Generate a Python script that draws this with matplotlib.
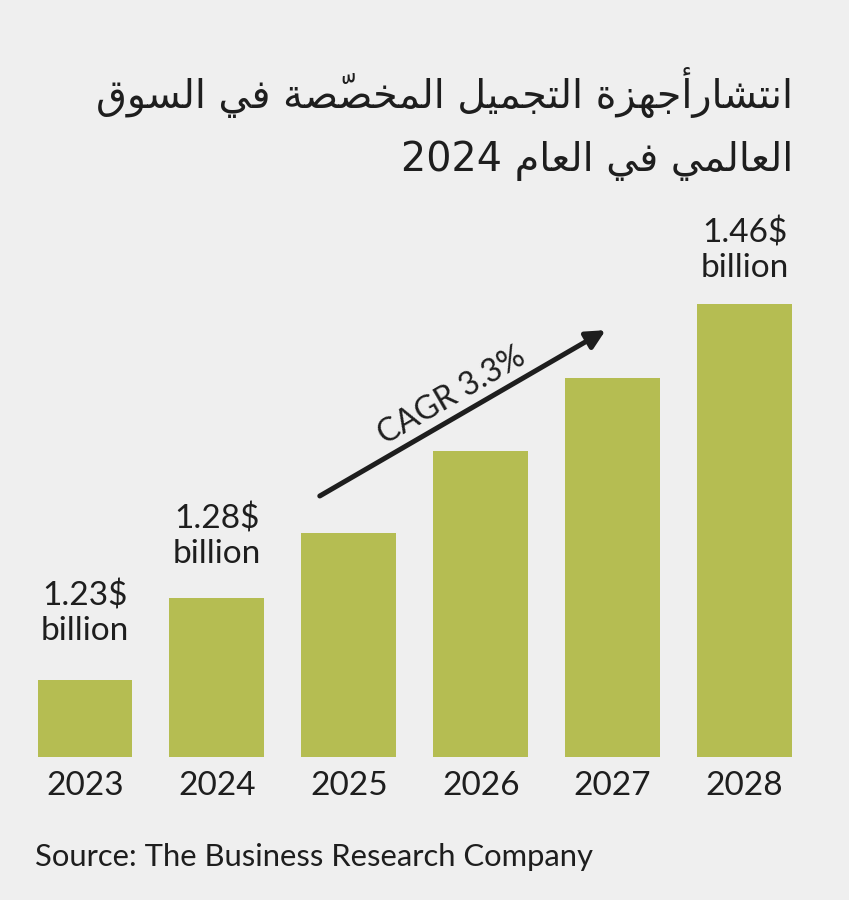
import numpy as np
import matplotlib
matplotlib.use('Agg')
import matplotlib.pyplot as plt

#--① data
years = ['2023', '2024', '2025', '2026', '2027', '2028']
values = [1.23, 1.28, 1.32, 1.37, 1.415, 1.46]   # billion $
labeled = [0, 1, 5]                               # bars carrying a value label
label_gap = [40, 35, 27]                          # px between bar top and 'billion' baseline
cagr_text = 'CAGR 3.3%'
title_lines = ['انتشارأجهزة التجميل المخصّصة في السوق', 'العالمي في العام 2024']
source_text = 'Source: The Business Research Company'

BG = '#efefef'
BAR = '#b5bd52'
INK = '#1e1e1e'

#--② tiny arabic shaper (presentation forms + visual order), no external libs
AR_FORMS = {
    '\u0627': (0xFE8D, 0xFE8E, None, None),
    '\u0623': (0xFE83, 0xFE84, None, None),
    '\u062A': (0xFE95, 0xFE96, 0xFE97, 0xFE98),
    '\u0629': (0xFE93, 0xFE94, None, None),
    '\u062C': (0xFE9D, 0xFE9E, 0xFE9F, 0xFEA0),
    '\u062E': (0xFEA5, 0xFEA6, 0xFEA7, 0xFEA8),
    '\u0631': (0xFEAD, 0xFEAE, None, None),
    '\u0632': (0xFEAF, 0xFEB0, None, None),
    '\u0633': (0xFEB1, 0xFEB2, 0xFEB3, 0xFEB4),
    '\u0634': (0xFEB5, 0xFEB6, 0xFEB7, 0xFEB8),
    '\u0635': (0xFEB9, 0xFEBA, 0xFEBB, 0xFEBC),
    '\u0639': (0xFEC9, 0xFECA, 0xFECB, 0xFECC),
    '\u0641': (0xFED1, 0xFED2, 0xFED3, 0xFED4),
    '\u0642': (0xFED5, 0xFED6, 0xFED7, 0xFED8),
    '\u0644': (0xFEDD, 0xFEDE, 0xFEDF, 0xFEE0),
    '\u0645': (0xFEE1, 0xFEE2, 0xFEE3, 0xFEE4),
    '\u0646': (0xFEE5, 0xFEE6, 0xFEE7, 0xFEE8),
    '\u0647': (0xFEE9, 0xFEEA, 0xFEEB, 0xFEEC),
    '\u0648': (0xFEED, 0xFEEE, None, None),
    '\u064A': (0xFEF1, 0xFEF2, 0xFEF3, 0xFEF4),
}
MARKS = '\u0651'

def shape_word(w):
    n = len(w)
    clusters = []
    for i, c in enumerate(w):
        if c in MARKS:
            clusters[-1].insert(0, c)   # mark drawn before its base (zero advance)
            continue
        if c not in AR_FORMS:
            clusters.append([c])
            continue
        j = i - 1
        while j >= 0 and w[j] in MARKS:
            j -= 1
        k = i + 1
        while k < n and w[k] in MARKS:
            k += 1
        prev_j = j >= 0 and w[j] in AR_FORMS and AR_FORMS[w[j]][2] is not None
        next_j = k < n and w[k] in AR_FORMS and AR_FORMS[c][2] is not None
        iso, fin, ini, med = AR_FORMS[c]
        if prev_j and next_j:
            g = med
        elif prev_j:
            g = fin
        elif next_j:
            g = ini
        else:
            g = iso
        clusters.append([chr(g)])
    return ''.join(''.join(cl) for cl in reversed(clusters))

def shape_ar(text):
    words = text.split(' ')
    out = [w if w.isascii() else shape_word(w) for w in words]
    return ' '.join(reversed(out))

#--③ figure
fig = plt.figure(figsize=(8.49, 9.0), dpi=100, facecolor=BG)
ax = fig.add_axes([37.5 / 849, 143 / 900, 754.5 / 849, 453 / 900])
ax.set_facecolor(BG)

x = np.arange(len(years))
ax.bar(x, values, width=0.72, color=BAR)
ax.set_xlim(-0.36, 5.36)
ax.set_ylim(1.183, 1.46)

ax.set_xticks(x, years)
ax.tick_params(axis='x', length=0, pad=10, labelsize=24, labelcolor=INK)
for lab in ax.get_xticklabels():
    lab.set_family('Lato')
ax.set_yticks([])
for s in ax.spines.values():
    s.set_visible(False)

#--④ value labels
for i, gap in zip(labeled, label_gap):
    ax.annotate('billion', (x[i], values[i]), xytext=(0, gap * 0.72), textcoords='offset points',
                ha='center', va='baseline', fontsize=24, family='Lato', color=INK,
                annotation_clip=False)
    ax.annotate(f'{values[i]:.2f}$', (x[i], values[i]), xytext=(0, (gap + 35) * 0.72),
                textcoords='offset points', ha='center', va='baseline', fontsize=24,
                family='Lato', color=INK, annotation_clip=False)

#--⑤ CAGR arrow
ax.annotate('', xy=(3.947, 1.444), xytext=(1.78, 1.3426),
            arrowprops=dict(arrowstyle='-|>', lw=3.6, color=INK, mutation_scale=28,
                            shrinkA=0, shrinkB=0), annotation_clip=False)
ax.text(2.78, 1.404, cagr_text, rotation=30.1, rotation_mode='anchor',
        ha='center', va='center', fontsize=23, family='Lato', color=INK)

#--⑥ title / source
fig.text(793 / 849, 1 - 108 / 900, shape_ar(title_lines[0]), ha='right', va='baseline',
         fontsize=28.5, family='DejaVu Sans', color=INK)
fig.text(793 / 849, 1 - 171 / 900, shape_ar(title_lines[1]), ha='right', va='baseline',
         fontsize=28.5, family='DejaVu Sans', color=INK)
fig.text(35 / 849, 1 - 866 / 900, source_text, ha='left', va='baseline',
         fontsize=22.3, family='Lato', color=INK)

fig.savefig('out.png', dpi=100, facecolor=BG)
